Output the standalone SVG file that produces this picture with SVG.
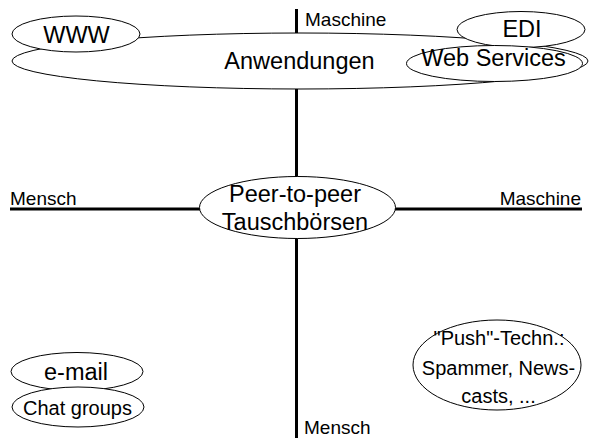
<svg xmlns="http://www.w3.org/2000/svg" width="609" height="440" viewBox="0 0 609 440">
<style>
.e{fill:#fff;stroke:#000;stroke-width:1}
.ax{stroke:#000;stroke-width:3;fill:none}
text{font-family:"Liberation Sans",Arial,sans-serif;fill:#000}
.l{font-size:23.5px;text-anchor:middle}
.m{font-size:20px;text-anchor:middle}
.s{font-size:19px}
</style>
<rect width="609" height="440" fill="#fff"/>
<g id="connectors">
<line class="ax" x1="296.5" y1="9" x2="296.5" y2="438"/>
<line class="ax" x1="10" y1="209" x2="582" y2="209"/>
</g>
<g id="anwendungen"><ellipse class="e" cx="300" cy="61" rx="288" ry="28"/><text class="l" x="299.5" y="69">Anwendungen</text></g>
<g id="www"><ellipse class="e" cx="76" cy="34" rx="64" ry="18"/><text class="l" x="76.5" y="43">WWW</text></g>
<g id="edi"><ellipse class="e" cx="521" cy="29.5" rx="64" ry="18"/><text class="l" x="522" y="37">EDI</text></g>
<g id="webservices"><ellipse class="e" cx="494.5" cy="63.5" rx="88" ry="18"/><text class="l" x="493.5" y="66">Web Services</text></g>
<g id="label-maschine-top"><text class="s" x="305" y="25.5">Maschine</text></g>
<g id="label-mensch-left"><text class="s" x="10" y="205">Mensch</text></g>
<g id="label-maschine-right"><text class="s" x="581" y="205" text-anchor="end">Maschine</text></g>
<g id="label-mensch-bottom"><text class="s" x="304" y="434">Mensch</text></g>
<g id="p2p"><ellipse class="e" cx="297.5" cy="207.5" rx="98" ry="31"/><text class="l" x="295" y="201.5">Peer-to-peer</text><text class="l" x="295" y="230">Tauschbörsen</text></g>
<g id="email"><ellipse class="e" cx="77" cy="371.5" rx="66" ry="19"/><text class="l" x="76" y="380">e-mail</text></g>
<g id="chat"><ellipse class="e" cx="78" cy="407" rx="66" ry="20"/><text class="m" x="77.5" y="415">Chat groups</text></g>
<g id="push"><ellipse class="e" cx="497" cy="365" rx="84" ry="45"/><text class="m" x="499" y="345">"Push"-Techn.:</text><text class="m" x="498.5" y="375">Spammer, News-</text><text class="m" x="498.5" y="403">casts, ...</text></g>
</svg>
